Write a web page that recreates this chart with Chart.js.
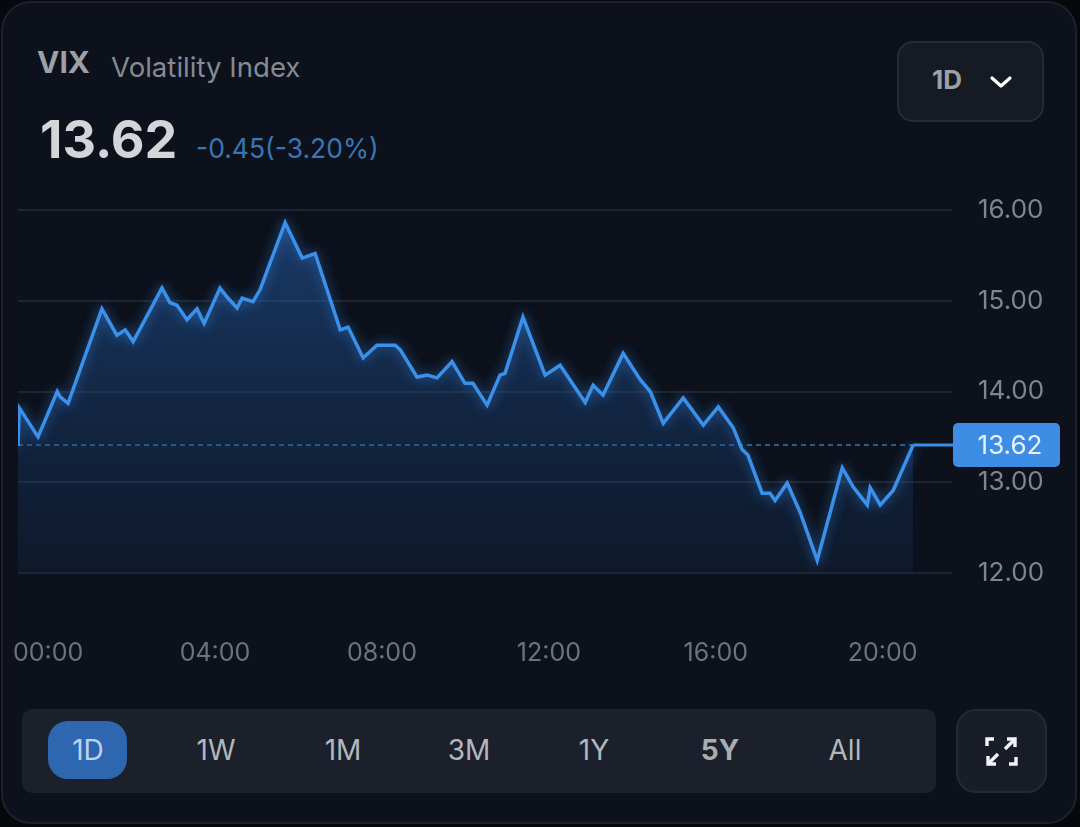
<!DOCTYPE html>
<html>
<head>
<meta charset="utf-8">
<script src="https://cdn.jsdelivr.net/npm/chart.js@4.4.1/dist/chart.umd.min.js"></script>
<style>
  html, body { margin: 0; padding: 0; }
  body {
    width: 1080px; height: 827px; overflow: hidden; position: relative;
    background: #06080c; font-family: Inter, "Noto Sans", sans-serif;
  }
  .abs { position: absolute; white-space: nowrap; line-height: 1; }
  #card {
    position: absolute; left: 1px; top: 1px; width: 1076px; height: 823px;
    box-sizing: border-box; border: 2px solid #1c212b; border-radius: 30px;
    background: #0c111b;
  }
  #sym { left: 37px; top: 47px; font-size: 30px; font-weight: 700; color: #9ca0a7; }
  #name { left: 111px; top: 54px; font-size: 27.6px; color: #858a93; }
  #price { left: 40px; top: 114px; font-size: 52px; font-weight: 700; color: #d3d5d9; }
  #change { left: 196px; top: 135px; font-size: 26.5px; color: #3a76b4; }
  #dropdown {
    position: absolute; left: 897px; top: 41px; width: 147px; height: 81px;
    box-sizing: border-box; border: 2px solid #262c37; border-radius: 16px; background: #151a23;
  }
  #ddText { left: 932px; top: 67px; font-size: 26px; font-weight: 700; color: #9ca0a8; }
  #chart { position: absolute; left: 0; top: 190px; width: 1080px; height: 490px; }
  #bar {
    position: absolute; left: 22px; top: 709px; width: 914px; height: 84px;
    border-radius: 10px; background: #1b202a;
  }
  #pill {
    position: absolute; left: 48px; top: 721px; width: 79px; height: 58px;
    border-radius: 20px; background: #2f66b0;
  }
  .rng { width: 100px; text-align: center; top: 736px; font-size: 28px; color: #b3b7bd; }
  #full {
    position: absolute; left: 956px; top: 709px; width: 91px; height: 84px;
    box-sizing: border-box; border: 2px solid #242a35; border-radius: 20px; background: #181d27;
  }
</style>
</head>
<body>
<div id="card"></div>
<div id="sym" class="abs">VIX</div>
<div id="name" class="abs">Volatility Index</div>
<div id="price" class="abs">13.62</div>
<div id="change" class="abs">-0.45(-3.20%)</div>

<div id="dropdown"></div>
<div id="ddText" class="abs">1D</div>
<svg class="abs" style="left:989px;top:75px" width="24" height="15" viewBox="0 0 24 15">
  <path d="M3 3 L12 11 L21 3" fill="none" stroke="#ffffff" stroke-width="3.2" stroke-linecap="round" stroke-linejoin="round"/>
</svg>

<canvas id="chart" width="1080" height="490"></canvas>

<div id="bar"></div>
<div id="pill"></div>
<div id="ranges"></div>

<div id="full"></div>
<svg class="abs" style="left:985px;top:736px" width="33" height="31" viewBox="0 0 33 31">
  <g fill="none" stroke="#f2f4f7" stroke-width="3.4" stroke-linecap="butt" stroke-linejoin="miter">
    <path d="M2 10 V3 H9"/>
    <path d="M31 21 V28 H24"/>
    <path d="M22 3 H30 V11"/>
    <path d="M30 3 L20 13"/>
    <path d="M3 20 V28 H11"/>
    <path d="M3 28 L13 18"/>
  </g>
</svg>

<script>

// ======================
// DATA
// ======================

// time of each point, in hours since 00:00
const times = [
  -0.72, -0.69, -0.24, 0.22, 0.29, 0.48, 1.29, 1.65, 1.85, 2.04,
  2.73, 2.92, 3.09, 3.33, 3.57, 3.74, 4.12, 4.31, 4.53, 4.65,
  4.91, 5.08, 5.68, 6.09, 6.40, 7.00, 7.19, 7.55, 7.88, 8.32,
  8.44, 8.84, 9.08, 9.32, 9.68, 9.99, 10.18, 10.52, 10.83, 10.95,
  11.38, 11.91, 12.27, 12.87, 13.06, 13.30, 13.78, 14.19, 14.43, 14.74,
  15.22, 15.70, 16.06, 16.42, 16.63, 16.77, 17.11, 17.30, 17.42, 17.71,
  18.02, 18.43, 19.03, 19.29, 19.63, 19.70, 19.94, 20.25, 20.73
];

const values = [
  13.40, 13.82, 13.50, 14.00, 13.94, 13.87, 14.91, 14.62, 14.68, 14.55,
  15.14, 14.98, 14.95, 14.79, 14.91, 14.75, 15.14, 15.03, 14.92, 15.03,
  14.99, 15.12, 15.86, 15.47, 15.52, 14.68, 14.71, 14.37, 14.51, 14.51,
  14.46, 14.16, 14.18, 14.15, 14.33, 14.09, 14.09, 13.85, 14.18, 14.20,
  14.82, 14.18, 14.29, 13.88, 14.07, 13.96, 14.42, 14.13, 14.00, 13.65,
  13.93, 13.63, 13.83, 13.60, 13.36, 13.30, 12.88, 12.88, 12.80, 12.99,
  12.67, 12.14, 13.16, 12.95, 12.75, 12.94, 12.75, 12.91, 13.41
];

const hourTicks = [0, 4, 8, 12, 16, 20];
const yTicks = [12, 13, 14, 15, 16];
const ranges = ["1D", "1W", "1M", "3M", "1Y", "5Y", "All"];
const lastPrice = "13.62";


// ======================
// RANGE BUTTONS
// ======================

const rangeCenters = [88, 216, 343, 469, 594, 720, 845];

ranges.forEach((r, i) => {
    const el = document.createElement("div");
    el.className = "abs rng";
    el.style.left = (rangeCenters[i] - 50) + "px";
    el.innerText = r;
    if (r === "1D") el.style.color = "#bdd2ee";
    if (r === "5Y") { el.style.fontWeight = "700"; el.style.color = "#a9adb3"; }
    document.getElementById("ranges").appendChild(el);
});


// ======================
// PRICE LINE PLUGIN
// ======================

const priceLine = {
    id: "priceLine",

    beforeDatasetsDraw(chart) {
        const ctx = chart.ctx;
        const pts = chart.getDatasetMeta(0).data;
        const last = pts[pts.length - 1];
        ctx.save();
        ctx.strokeStyle = "#2b5b92";
        ctx.lineWidth = 2;
        ctx.setLineDash([5, 4]);
        ctx.beginPath();
        ctx.moveTo(chart.chartArea.left, last.y);
        ctx.lineTo(last.x, last.y);
        ctx.stroke();
        ctx.restore();
    },

    // glow round the line
    beforeDatasetDraw(chart) {
        chart.ctx.save();
        chart.ctx.shadowColor = "rgba(60,150,255,0.65)";
        chart.ctx.shadowBlur = 12;
    },

    afterDatasetDraw(chart) {
        chart.ctx.restore();
    },

    afterDatasetsDraw(chart) {
        const ctx = chart.ctx;
        const pts = chart.getDatasetMeta(0).data;
        const last = pts[pts.length - 1];
        const y = last.y;

        ctx.save();
        ctx.strokeStyle = "#3a8ee8";
        ctx.lineWidth = 3;
        ctx.beginPath();
        ctx.moveTo(last.x, y);
        ctx.lineTo(956, y);
        ctx.stroke();

        ctx.fillStyle = "#3d8de4";
        ctx.beginPath();
        ctx.roundRect(953, y - 22, 107, 44, 5);
        ctx.fill();

        ctx.fillStyle = "#e8f1fc";
        ctx.font = "26px Inter";
        ctx.textAlign = "center";
        ctx.textBaseline = "middle";
        ctx.fillText(lastPrice, 1010, y + 1);
        ctx.restore();
    }
};

// drop the extra room Chart.js keeps for tick labels
function noPadding(s) {
    s.paddingLeft = 0;
    s.paddingRight = 0;
    s.paddingTop = 0;
    s.paddingBottom = 0;
}


// ======================
// LINE CHART
// ======================

new Chart(
    document.getElementById("chart"),
    {
        type: "line",

        data: {
            datasets: [{
                data: times.map((t, i) => ({ x: t, y: values[i] })),
                borderColor: "#3b90ea",
                borderWidth: 3.5,
                pointRadius: 0,
                tension: 0,
                fill: "start",
                backgroundColor: (c) => {
                    const area = c.chart.chartArea;
                    if (!area) return "rgba(30,70,120,0.4)";
                    const g = c.chart.ctx.createLinearGradient(0, area.top, 0, area.bottom);
                    g.addColorStop(0, "rgba(40,98,175,0.55)");
                    g.addColorStop(1, "rgba(25,60,110,0.2)");
                    return g;
                }
            }]
        },

        options: {
            responsive: false,
            animation: false,
            layout: { padding: { top: 20, left: 18, right: 0, bottom: 0 } },
            plugins: {
                legend: { display: false },
                tooltip: { enabled: false }
            },
            scales: {
                x: {
                    type: "linear",
                    min: -0.72,
                    max: 21.66,
                    afterBuildTicks: (s) => { s.ticks = hourTicks.map(v => ({ value: v })); },
                    afterFit: (s) => { s.height = 107; noPadding(s); },
                    grid: { display: false, drawTicks: false },
                    border: { display: false },
                    ticks: {
                        padding: 65,
                        maxRotation: 0,
                        color: "#6d727b",
                        font: { family: "Inter", size: 25 },
                        callback: (v) => String(v).padStart(2, "0") + ":00"
                    }
                },
                y: {
                    position: "right",
                    min: 12,
                    max: 16,
                    afterBuildTicks: (s) => { s.ticks = yTicks.map(v => ({ value: v })); },
                    afterFit: (s) => { s.width = 128; noPadding(s); },
                    grid: { color: "#1e2430", lineWidth: 2, drawTicks: false },
                    border: { display: false },
                    ticks: {
                        padding: 26,
                        color: "#80858d",
                        font: { family: "Inter", size: 26 },
                        callback: (v) => v.toFixed(2)
                    }
                }
            }
        },

        plugins: [priceLine]
    }
);

</script>
</body>
</html>
